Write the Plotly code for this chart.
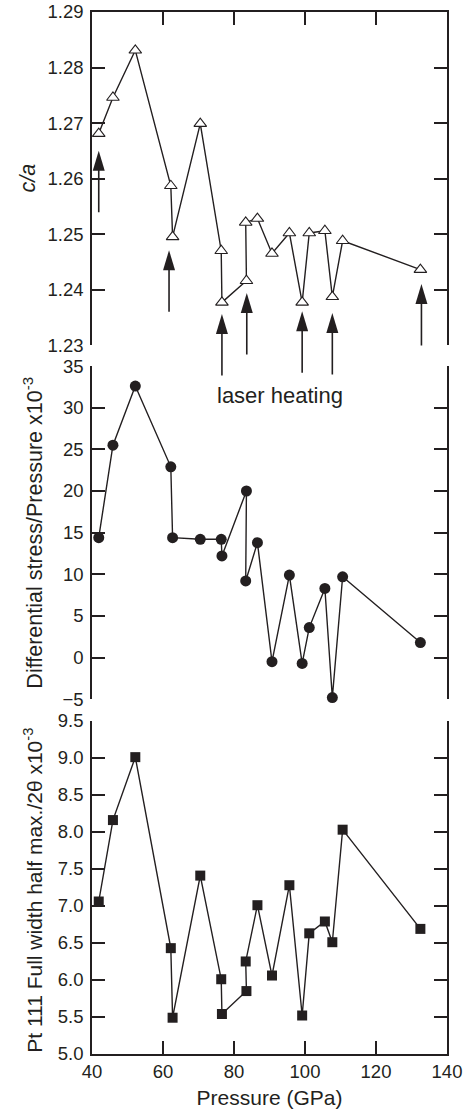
import plotly.graph_objects as go

# ---------------- data ----------------
pressure = [41.9, 45.9, 52.2, 62.2, 62.7, 70.5, 76.4, 76.6, 83.5, 83.3,
            86.6, 90.7, 95.6, 99.2, 101.2, 105.6, 107.7, 110.6, 132.5]
c_over_a = [1.2681, 1.2746, 1.2831, 1.2587, 1.2495, 1.2699, 1.2470, 1.2377,
            1.2416, 1.2521, 1.2528, 1.2465, 1.2502, 1.2377, 1.2502, 1.2506,
            1.2387, 1.2488, 1.2436]
stress_ratio = [14.4, 25.5, 32.6, 22.9, 14.4, 14.2, 14.2, 12.2, 20.0, 9.2,
                13.8, -0.5, 9.9, -0.7, 3.6, 8.3, -4.8, 9.7, 1.8]
fwhm = [7.06, 8.16, 9.01, 6.43, 5.49, 7.41, 6.01, 5.54, 5.85, 6.25,
        7.01, 6.06, 7.28, 5.52, 6.63, 6.79, 6.51, 8.03, 6.69]

# laser-heating arrows (tip positions in the c/a panel)
arrow_pressure = [41.9, 61.7, 76.6, 83.6, 99.2, 107.7, 132.8]
arrow_tip_ca = [1.2650, 1.2471, 1.2356, 1.2394, 1.2361, 1.2358, 1.2410]

ca_ticks = [1.23, 1.24, 1.25, 1.26, 1.27, 1.28, 1.29]
stress_ticks = [-5, 0, 5, 10, 15, 20, 25, 30, 35]
fwhm_ticks = [5.0, 5.5, 6.0, 6.5, 7.0, 7.5, 8.0, 8.5, 9.0, 9.5]
x_ticks = [40, 60, 80, 100, 120, 140]

INK = "#231f20"
FONT = "Liberation Sans, Arial, Helvetica, sans-serif"

fig = go.Figure()

line_style = dict(color=INK, width=1.4)

fig.add_trace(go.Scatter(
    x=pressure, y=c_over_a, mode="lines+markers", xaxis="x", yaxis="y",
    line=line_style,
    marker=dict(symbol="triangle-up", size=11, color="white",
                line=dict(color=INK, width=1.1)),
    showlegend=False, cliponaxis=False))

fig.add_trace(go.Scatter(
    x=pressure, y=stress_ratio, mode="lines+markers", xaxis="x2", yaxis="y2",
    line=line_style,
    marker=dict(symbol="circle", size=11, color=INK, line=dict(width=0)),
    showlegend=False, cliponaxis=False))

fig.add_trace(go.Scatter(
    x=pressure, y=fwhm, mode="lines+markers", xaxis="x3", yaxis="y3",
    line=line_style,
    marker=dict(symbol="square", size=10, color=INK, line=dict(width=0)),
    showlegend=False, cliponaxis=False))

# arrow heads: narrow filled triangles anchored at the tip (pixel-sized paths)
shapes = []
for px, py in zip(arrow_pressure, arrow_tip_ca):
    shapes.append(dict(
        type="path", xref="x", yref="y", xsizemode="pixel", ysizemode="pixel",
        xanchor=px, yanchor=py, path="M0,0 L-6,-20 L6,-20 Z",
        fillcolor=INK, line=dict(width=0), layer="above"))

annotations = []
# arrow tails (annotation arrows are not clipped to the panel)
for px, py in zip(arrow_pressure, arrow_tip_ca):
    annotations.append(dict(
        x=px, y=py, xref="x", yref="y", ax=0, ay=63, axref="pixel", ayref="pixel",
        text="", showarrow=True, arrowhead=0, arrowwidth=1.6, arrowcolor=INK,
        standoff=10, font=dict(size=1)))

annotations.append(dict(
    x=93, y=31.46, xref="x2", yref="y2", text="laser heating", showarrow=False,
    font=dict(size=22, color=INK, family=FONT), xanchor="center", yanchor="middle"))

ytitle_font = dict(size=21.5, color=INK, family=FONT)
annotations.append(dict(
    x=0, xref="paper", xshift=-64, y=0.5, yref="y domain", text="<i>c/a</i>",
    textangle=-90, showarrow=False, font=ytitle_font,
    xanchor="center", yanchor="middle"))
annotations.append(dict(
    x=0, xref="paper", xshift=-59, y=0.5, yref="y2 domain",
    text="Differential stress/Pressure x10<sup>-3</sup>",
    textangle=-90, showarrow=False, font=ytitle_font,
    xanchor="center", yanchor="middle"))
annotations.append(dict(
    x=0, xref="paper", xshift=-59, y=0.49, yref="y3 domain",
    text="Pt 111 Full width half max./2θ x10<sup>-3</sup>",
    textangle=-90, showarrow=False, font=dict(size=21, color=INK, family=FONT),
    xanchor="center", yanchor="middle"))

axis_common = dict(showgrid=False, zeroline=False, linecolor=INK, linewidth=1.5,
                   tickcolor=INK, tickwidth=1.5, ticklen=13, automargin=False,
                   tickfont=dict(size=18.5, color=INK, family=FONT))

fig.update_layout(
    width=470, height=1118,
    margin=dict(l=92, r=23, t=12, b=64, autoexpand=False),
    paper_bgcolor="white", plot_bgcolor="white",
    font=dict(family=FONT, color=INK),
    showlegend=False,
    shapes=shapes,
    xaxis=dict(**axis_common, domain=[0, 1], range=[40, 140], anchor="y", side="top",
               showline=True, ticks="inside", tickvals=x_ticks, showticklabels=False),
    xaxis2=dict(**axis_common, domain=[0, 1], range=[40, 140], anchor="y2",
                showline=False, ticks="", showticklabels=False, matches="x"),
    xaxis3=dict(**axis_common, domain=[0, 1], range=[40, 140], anchor="y3",
                showline=True, ticks="inside", tickvals=x_ticks,
                title=dict(text="Pressure (GPa)", font=dict(size=21, color=INK, family=FONT),
                           standoff=9),
                matches="x"),
    yaxis=dict(**axis_common, domain=[0.6803, 1.0], range=[1.23, 1.29], anchor="x",
               showline=True, mirror="ticks", ticks="inside", tickvals=ca_ticks,
               tickformat=".2f", ticklabelstandoff=3),
    yaxis2=dict(**axis_common, domain=[0.3405, 0.6602], range=[-5, 35], anchor="x2",
                showline=True, mirror="ticks", ticks="inside", tickvals=stress_ticks,
                ticklabelstandoff=3),
    yaxis3=dict(**axis_common, domain=[0.0, 0.3197], range=[5.0, 9.5], anchor="x3",
                showline=True, mirror="ticks", ticks="inside", tickvals=fwhm_ticks,
                tickformat=".1f", ticklabelstandoff=3),
    annotations=annotations,
)

fig.write_html("out.html")
